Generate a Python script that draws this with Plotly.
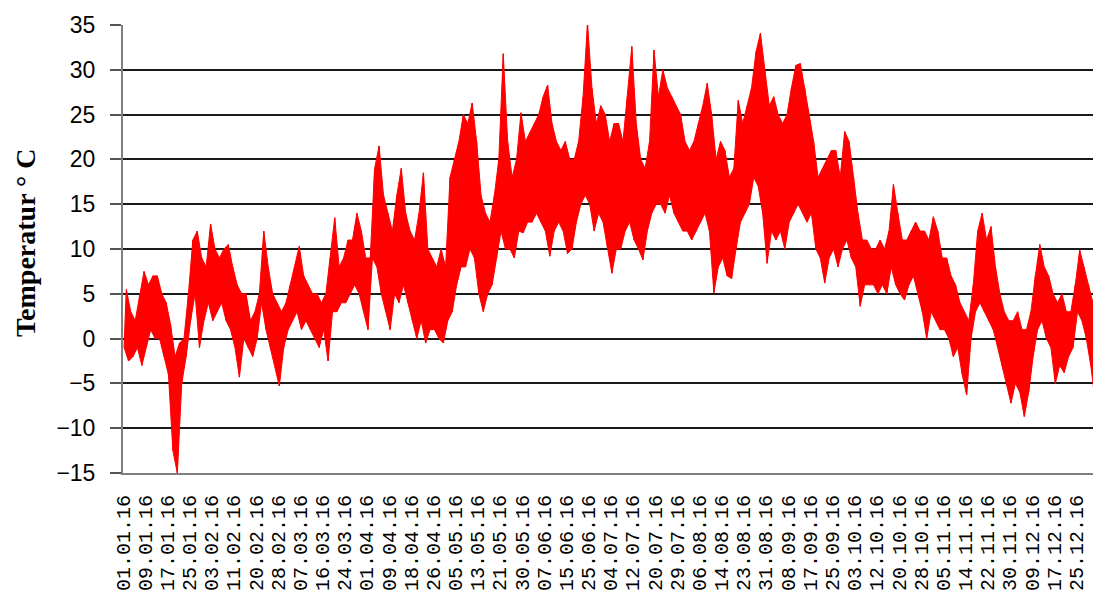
import plotly.graph_objects as go

# Envelope: for each block of 40 hourly points, a low and a high temperature (°C)
low_vals = [
    -1, -2.5, -2, -1, -3, -1, 1, 0, 0, -2,
    -4, -12.5, -15, -5, -2, 2, 5, -1, 2, 4,
    2, 3, 4, 2, 1, -1, -4.3, 0, -1, -2,
    0, 4, 1, -1, -3, -5.3, -1, 1, 2, 3,
    1, 2, 1, 0, -1, 1, -2.5, 3, 3, 4,
    4, 5, 6, 5, 3, 1, 9, 8, 5, 3,
    1, 5, 4, 6, 4, 2, 0, 2, -0.5, 1,
    1, 0, -0.5, 2, 3, 6, 8, 8, 10, 9,
    5, 3, 5, 6, 9, 12, 10, 10, 9, 12,
    11.8, 13, 13, 14, 13, 12, 9.2, 12, 13, 12,
    9.5, 10, 13, 15, 16, 15, 12, 14, 13, 10,
    7.3, 10, 10, 12, 13, 11, 10, 8.8, 12, 14,
    15, 15, 14, 16, 14, 13, 12, 12, 11, 12,
    13, 14, 12, 5.1, 8, 9, 7, 6.7, 10, 13,
    14, 15, 18, 17, 14, 8.4, 12, 11, 12, 10,
    13, 14, 15, 14, 13, 14, 10, 9, 6.2, 9,
    10, 8, 10, 11, 9, 8, 3.6, 6, 6, 6,
    5, 6, 5, 8, 6, 5, 4.3, 6, 7, 5,
    3, 0, 3, 2, 1, 1, 0, -2, -1, -4,
    -6.3, 0, 3, 4, 3, 2, 1, -1, -3, -5,
    -7.2, -5, -6, -8.7, -6, -2, 1, 2, 0, -1,
    -5, -3, -3.8, -2, -1, 3, 2, 0, -3, -7,
]
high_vals = [
    5.5, 3, 2, 5, 7.5, 6, 7, 7, 5, 4,
    1.5, -2, -0.5, 0, 5, 11, 12, 9, 8, 12.8,
    10, 9, 10, 10.5, 8, 6, 5, 5, 2, 3,
    5, 12, 8, 5, 4, 3, 4, 6, 8, 10.3,
    7, 6, 5, 5, 4, 5, 9, 13.5, 8, 9,
    11, 11, 14, 12, 9, 9, 19, 21.5, 16, 14,
    12, 16, 19, 14, 12, 11, 14, 18.5, 10, 9,
    8, 10, 8, 18, 20, 22, 25, 24, 26.3, 22,
    16, 14, 13, 16, 20, 31.8, 22, 18, 20, 25.2,
    22, 23, 24, 25, 27, 28.3, 24, 22, 21, 22,
    20, 20, 22, 27, 35.2, 28, 24, 26, 25, 22,
    24, 24, 22, 27, 32.6, 24, 20, 19, 22, 32.2,
    27, 30, 28, 27, 26, 25, 22, 21, 22, 24,
    26, 28.5, 25, 20, 22, 21, 18, 19, 26.6, 24,
    26, 28, 32, 34.1, 30, 26, 27, 25, 24, 25,
    28, 30.5, 30.7, 28, 25, 22, 18, 19, 20, 21,
    21, 18, 23.1, 22, 18, 14, 11, 11, 10, 10,
    11, 10, 12, 17.2, 14, 11, 11, 12, 13, 12,
    12, 11, 13.6, 12, 9, 9, 7, 6, 4, 3,
    2, 6, 12, 14, 11, 12.5, 8, 5, 3, 2,
    2, 3, 1, 1, 3, 7, 10.5, 8, 7, 5,
    4, 5, 3, 3, 6, 9.9, 8, 6, 4, 2,
]

tick_labels = [
    "01.01.16", "09.01.16", "17.01.16", "25.01.16", "03.02.16", "11.02.16",
    "20.02.16", "28.02.16", "07.03.16", "16.03.16", "24.03.16", "01.04.16",
    "09.04.16", "18.04.16", "26.04.16", "05.05.16", "13.05.16", "21.05.16",
    "30.05.16", "07.06.16", "15.06.16", "25.06.16", "04.07.16", "12.07.16",
    "20.07.16", "29.07.16", "06.08.16", "14.08.16", "23.08.16", "31.08.16",
    "08.09.16", "17.09.16", "25.09.16", "03.10.16", "12.10.16", "20.10.16",
    "28.10.16", "05.11.16", "14.11.16", "22.11.16", "30.11.16", "09.12.16",
    "17.12.16", "25.12.16",
]
y_ticks = [35, 30, 25, 20, 15, 10, 5, 0, -5, -10, -15]

BLOCK = 40          # hourly points per low/high pair
LABEL_STEP = 200    # hourly points between category labels
RED = "#FF0000"

x_lo = [j * BLOCK + 10 for j in range(len(low_vals))]
x_hi = [j * BLOCK + 30 for j in range(len(high_vals))]

# zigzag temperature trace through low/high readings
xs, ys = [], []
for a, lo, b, hi in zip(x_lo, low_vals, x_hi, high_vals):
    xs += [a, b]
    ys += [lo, hi]

fig = go.Figure()
# dense band between the low and high readings
fig.add_trace(go.Scatter(
    x=x_lo, y=low_vals, mode="lines",
    line=dict(color=RED, width=1), hoverinfo="skip", showlegend=False,
))
fig.add_trace(go.Scatter(
    x=x_hi, y=high_vals, mode="lines", fill="tonexty", fillcolor=RED,
    line=dict(color=RED, width=1), hoverinfo="skip", showlegend=False,
))
fig.add_trace(go.Scatter(
    x=xs, y=ys, mode="lines",
    line=dict(color=RED, width=1.2),
    hoverinfo="skip", showlegend=False,
))

fig.update_layout(
    width=1093, height=603,
    margin=dict(l=123, r=0, t=25, b=130),
    paper_bgcolor="white", plot_bgcolor="white",
    showlegend=False,
    annotations=[dict(
        text="<b>Temperatur ° C</b>", textangle=-90,
        xref="paper", yref="paper",
        x=(25 - 123) / 970, y=(473 - 243) / 448,
        xanchor="center", yanchor="middle", showarrow=False,
        font=dict(family="Liberation Serif", size=28, color="#000"),
    )],
)
fig.update_xaxes(
    range=[0, 8750],
    tickmode="array",
    tickvals=[k * LABEL_STEP for k in range(len(tick_labels))],
    ticktext=tick_labels,
    tickangle=-90,
    tickfont=dict(family="Liberation Mono", size=20, color="#000"),
    ticklabelstandoff=12,
    showgrid=False, zeroline=False,
    showline=True, linecolor="#7f7f7f", linewidth=2,
    ticks="",
)
fig.update_yaxes(
    range=[-15, 35],
    tickmode="array", tickvals=y_ticks,
    tickfont=dict(family="Liberation Sans", size=23, color="#000"),
    ticks="outside", ticklen=11, tickcolor="#555", tickwidth=1.5,
    ticklabelstandoff=10,
    showgrid=True, gridcolor="#1a1a1a", gridwidth=1.8,
    zeroline=False,
    showline=True, linecolor="#7f7f7f", linewidth=2,
)

fig.write_html("out.html", config={"displayModeBar": False},
               post_script="document.body.style.margin='0';")
